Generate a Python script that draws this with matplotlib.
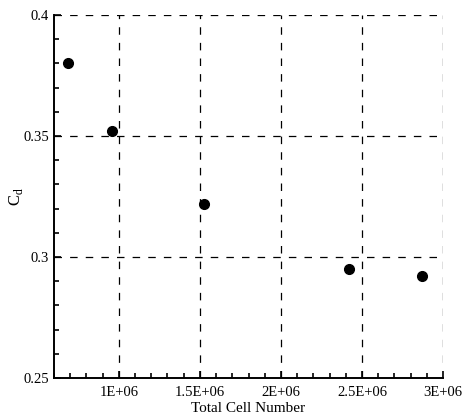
import numpy as np
import matplotlib.pyplot as plt
from matplotlib.ticker import MultipleLocator, FixedLocator, FixedFormatter

plt.rcParams['font.family'] = ['Liberation Serif', 'DejaVu Serif']

# datos
cells = [0.687e6, 0.955e6, 1.527e6, 2.418e6, 2.870e6]
cd = [0.380, 0.352, 0.322, 0.295, 0.292]

xticks = [1e6, 1.5e6, 2e6, 2.5e6, 3e6]
xtick_labels = ['1E+06', '1.5E+06', '2E+06', '2.5E+06', '3E+06']
yticks = [0.25, 0.3, 0.35, 0.4]
ytick_labels = ['0.25', '0.3', '0.35', '0.4']

fig = plt.figure(figsize=(4.62, 4.16), dpi=100)
ax = fig.add_axes([54/462, 38/416, (443-54)/462, (378-15)/416])

ax.plot(cells, cd, 'o', color='black', markersize=7, zorder=3)

ax.set_xlim(0.6e6, 3e6)
ax.set_ylim(0.25, 0.4)

ax.xaxis.set_major_locator(FixedLocator(xticks))
ax.xaxis.set_major_formatter(FixedFormatter(xtick_labels))
ax.xaxis.set_minor_locator(MultipleLocator(0.1e6))
ax.yaxis.set_major_locator(FixedLocator(yticks))
ax.yaxis.set_major_formatter(FixedFormatter(ytick_labels))
ax.yaxis.set_minor_locator(MultipleLocator(0.01))

ax.tick_params(which='both', direction='in', labelsize=10.5, width=1.2, color='black')
ax.tick_params(which='major', length=5)
ax.tick_params(which='minor', length=3.5)
ax.tick_params(axis='x', pad=6)

# grilla punteada, incluyendo los bordes de arriba y derecha
for xv in xticks:
    ax.axvline(xv, color='black', lw=0.9, dashes=(6, 6.5), zorder=1)
for yv in yticks[1:]:
    ax.axhline(yv, color='black', lw=0.9, dashes=(6, 6.5), zorder=1)

ax.spines['top'].set_visible(False)
ax.spines['right'].set_visible(False)
ax.spines['left'].set_linewidth(1.4)
ax.spines['bottom'].set_linewidth(1.4)

ax.set_xlabel('Total Cell Number', fontsize=11, labelpad=2)
ax.set_ylabel(r'C$_\mathregular{d}$', fontsize=12)
ax.yaxis.set_label_coords(-0.075, 0.5)

fig.savefig('out.png', dpi=100)
